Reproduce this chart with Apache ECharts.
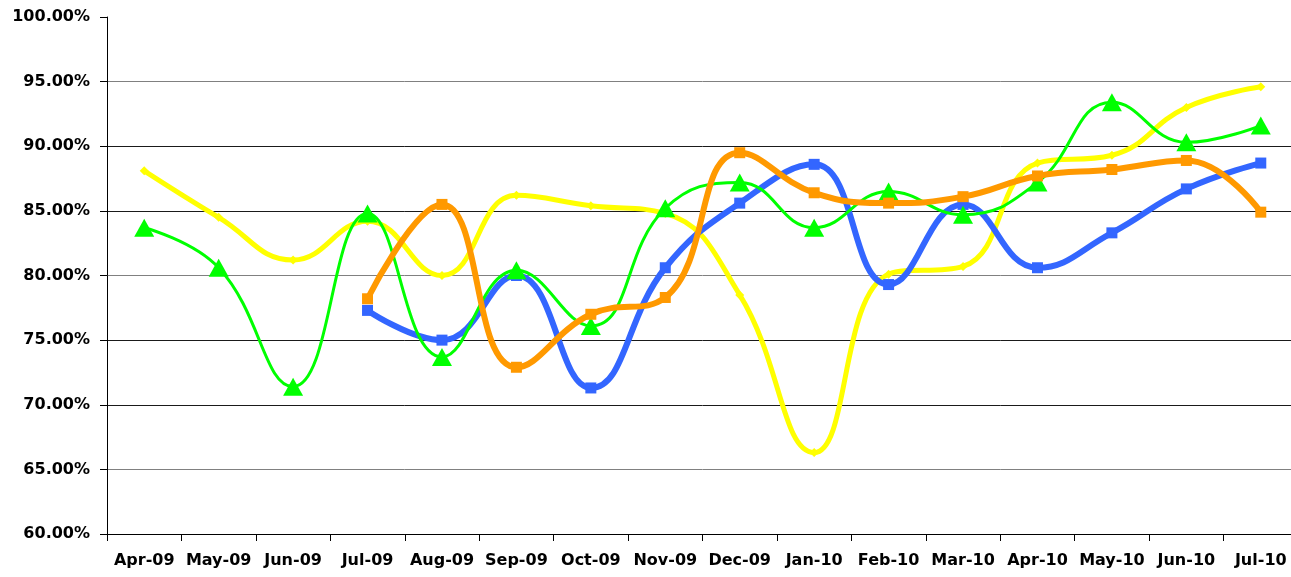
<!DOCTYPE html>
<html>
<head>
<meta charset="utf-8">
<script src="https://cdn.jsdelivr.net/npm/echarts@6/dist/echarts.min.js"></script>
<style>
html,body{margin:0;padding:0;background:#fff;overflow:hidden;width:1291px;height:577px;}
#c{width:1300px;height:577px;}
</style>
</head>
<body>
<div id="c"></div>
<script>
const categories = ['Apr-09','May-09','Jun-09','Jul-09','Aug-09','Sep-09','Oct-09','Nov-09','Dec-09','Jan-10','Feb-10','Mar-10','Apr-10','May-10','Jun-10','Jul-10'];
const yellowValues = [88.1, 84.5, 81.2, 84.2, 80.0, 86.2, 85.4, 84.8, 78.5, 66.3, 80.1, 80.7, 88.7, 89.3, 93.0, 94.6];
const greenValues  = [83.7, 80.6, 71.4, 84.8, 73.7, 80.4, 76.1, 85.2, 87.2, 83.7, 86.5, 84.7, 87.2, 93.4, 90.3, 91.6];
const blueValues   = [null, null, null, 77.3, 75.0, 80.0, 71.3, 80.6, 85.6, 88.6, 79.3, 85.5, 80.6, 83.3, 86.7, 88.7];
const orangeValues = [null, null, null, 78.2, 85.5, 72.9, 77.0, 78.3, 89.5, 86.4, 85.6, 86.1, 87.7, 88.2, 88.9, 84.9];
const yTicks = [60, 65, 70, 75, 80, 85, 90, 95, 100];

const chart = echarts.init(document.getElementById('c'), null, {renderer: 'canvas'});
const labelFont = {fontFamily: 'DejaVu Sans', fontWeight: 'bold', fontSize: 16, color: '#000'};

chart.setOption({
  animation: false,
  backgroundColor: '#fff',
  grid: {left: 107, right: 2, top: 17, bottom: 43, containLabel: false},
  xAxis: {
    type: 'category',
    data: categories,
    boundaryGap: true,
    axisLine: {show: true, lineStyle: {color: '#000', width: 1}},
    axisTick: {show: true, interval: 0, length: 7, lineStyle: {color: '#000'}},
    axisLabel: Object.assign({interval: 0, margin: 19}, labelFont),
    splitLine: {show: false}
  },
  yAxis: {
    type: 'value',
    min: yTicks[0],
    max: yTicks[yTicks.length - 1],
    interval: 5,
    axisLine: {show: true, lineStyle: {color: '#000', width: 1}},
    axisTick: {show: true, length: 7, lineStyle: {color: '#000'}},
    axisLabel: Object.assign({margin: 17, formatter: v => v.toFixed(2) + '%'}, labelFont),
    splitLine: {show: true, lineStyle: {width: 1, color: ['#000', '#808080', '#1a1a1a', '#1a1a1a', '#808080', '#1a1a1a', '#1a1a1a', '#808080', 'rgba(0,0,0,0)']}}
  },
  series: [
    {
      name: 'Yellow', type: 'line', data: yellowValues, smooth: 0.45,
      symbol: 'diamond', symbolSize: 9,
      itemStyle: {color: '#FFFF00'},
      lineStyle: {color: '#FFFF00', width: 5},
      z: 2
    },
    {
      name: 'Blue', type: 'line', data: blueValues, smooth: 0.45,
      symbol: 'rect', symbolSize: 11,
      itemStyle: {color: '#3366FF'},
      lineStyle: {color: '#3366FF', width: 6},
      z: 3
    },
    {
      name: 'Green', type: 'line', data: greenValues, smooth: 0.45,
      symbol: 'triangle', symbolSize: [20, 18],
      itemStyle: {color: '#00FF00'},
      lineStyle: {color: '#00FF00', width: 3},
      z: 4
    },
    {
      name: 'Orange', type: 'line', data: orangeValues, smooth: 0.45,
      symbol: 'rect', symbolSize: 11,
      itemStyle: {color: '#FF9900'},
      lineStyle: {color: '#FF9900', width: 6},
      z: 5
    }
  ]
});
</script>
</body>
</html>
